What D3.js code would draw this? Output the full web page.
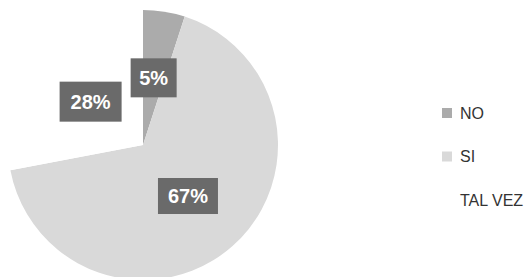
<!DOCTYPE html>
<html><head><meta charset="utf-8">
<script src="https://cdn.jsdelivr.net/npm/d3@7/dist/d3.min.js"></script>
<style>html,body{margin:0;padding:0;background:#fff;}svg{display:block;}</style>
</head><body>
<svg id="c" width="529" height="277"></svg>
<script>
const categories = ["NO", "SI", "TAL VEZ"];
const values = [5, 67, 28];
const labels = ["5%", "67%", "28%"];
const colors = ["#ababab", "#d9d9d9", "#ffffff"];

const svg = d3.select("#c");
const cx = 143, cy = 145, R = 135;

const pie = d3.pie().sort(null).value(d => d)(values);
const arc = d3.arc().innerRadius(0).outerRadius(R);

const g = svg.append("g").attr("transform", `translate(${cx},${cy})`);
g.selectAll("path").data(pie).join("path")
  .attr("d", arc)
  .attr("fill", (d, i) => colors[i]);

const lblPos = d3.arc().innerRadius(68).outerRadius(68);
const boxW = [46, 60, 62], boxH = [39, 36, 40];
const lg = g.selectAll("g.lbl").data(pie).join("g").attr("class", "lbl")
  .attr("transform", d => `translate(${lblPos.centroid(d)})`);
lg.append("rect")
  .attr("x", (d, i) => -boxW[i] / 2).attr("y", (d, i) => -boxH[i] / 2)
  .attr("width", (d, i) => boxW[i]).attr("height", (d, i) => boxH[i])
  .attr("fill", "#6a6a6a");
lg.append("text")
  .attr("text-anchor", "middle").attr("dy", "0.36em")
  .attr("font-family", "Liberation Sans, Arial, sans-serif")
  .attr("font-weight", "bold").attr("font-size", 20)
  .attr("fill", "#fff")
  .text((d, i) => labels[i]);

// legend
const ly = d3.scalePoint().domain(categories).range([113, 200]);
const leg = svg.selectAll("g.leg").data(categories).join("g").attr("class", "leg")
  .attr("transform", d => `translate(0,${ly(d)})`);
leg.append("rect").attr("x", 442).attr("y", -5).attr("width", 10).attr("height", 10)
  .attr("fill", (d, i) => colors[i]);
leg.append("text").attr("x", 460).attr("dy", "0.36em")
  .attr("font-family", "Liberation Sans, Arial, sans-serif")
  .attr("font-size", 16).attr("fill", "#333")
  .text(d => d);
</script>
</body></html>
